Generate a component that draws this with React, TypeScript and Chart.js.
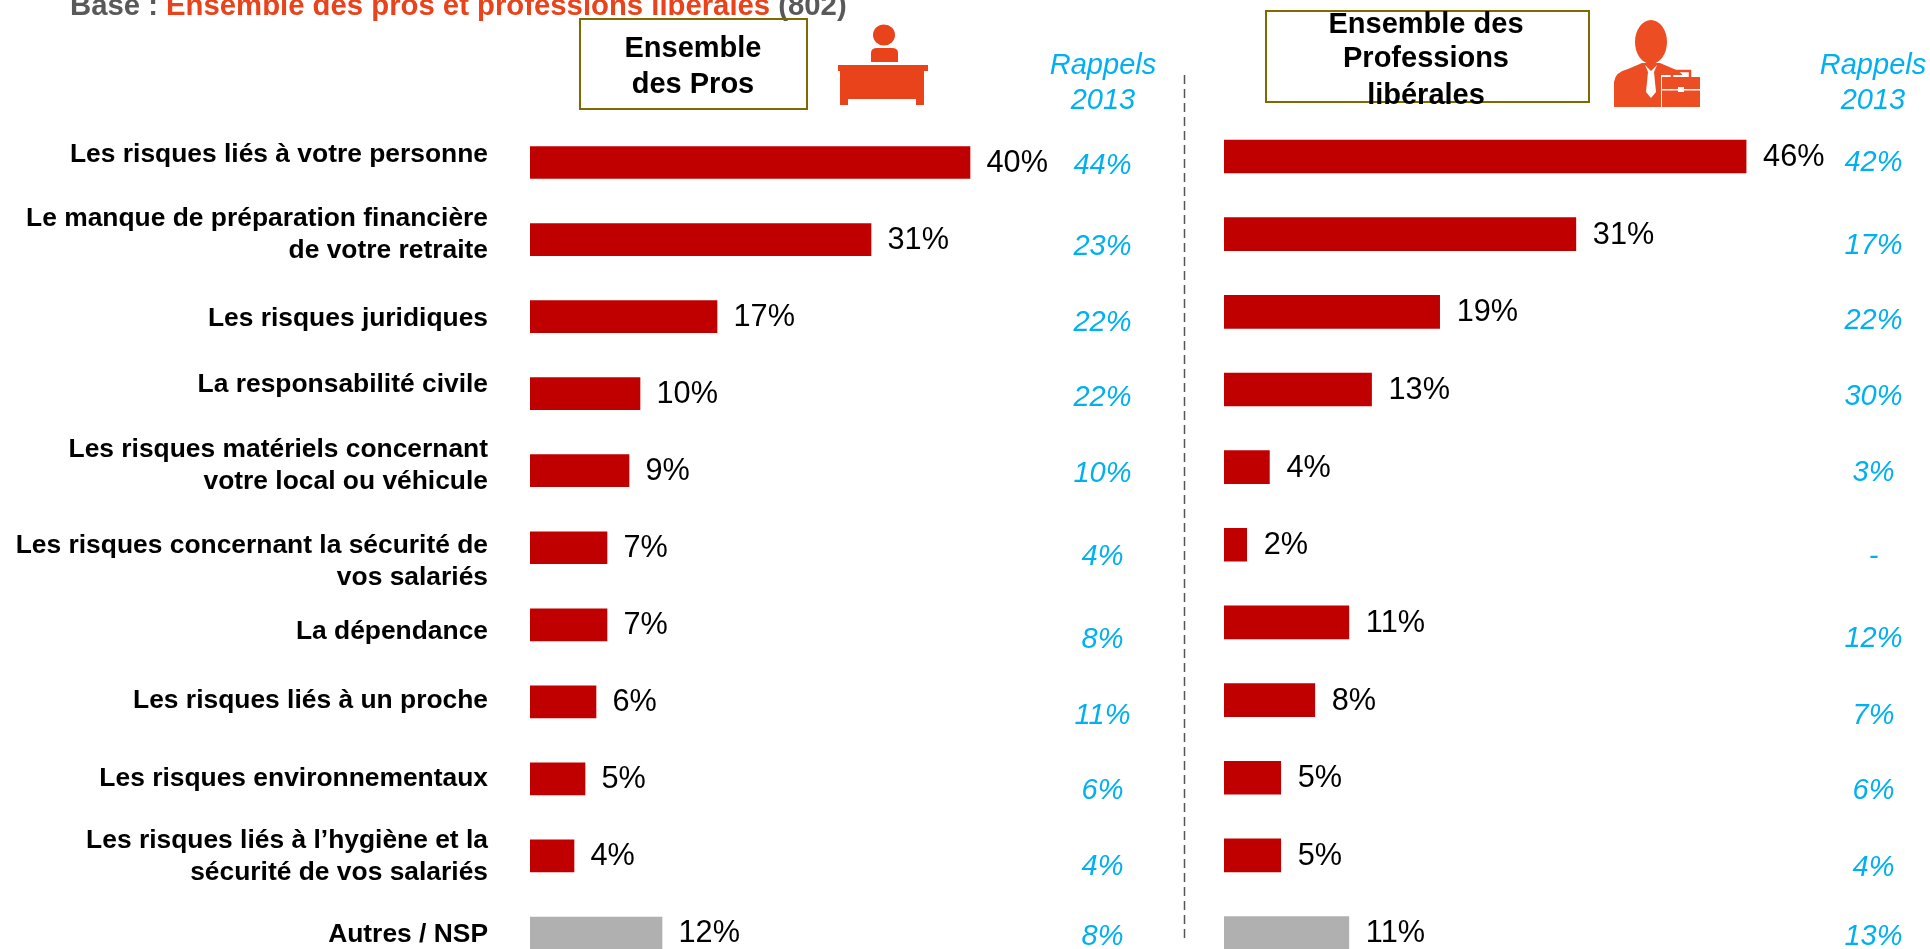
import React, { useEffect, useRef } from "react";
import { Chart, registerables } from "chart.js";

Chart.register(...registerables);

const categories = [
  ["Les risques liés à votre personne"],
  ["Le manque de préparation financière", "de votre retraite"],
  ["Les risques juridiques"],
  ["La responsabilité civile"],
  ["Les risques matériels concernant", "votre local ou véhicule"],
  ["Les risques concernant la sécurité de", "vos salariés"],
  ["La dépendance"],
  ["Les risques liés à un proche"],
  ["Les risques environnementaux"],
  ["Les risques liés à l’hygiène et la", "sécurité de vos salariés"],
  ["Autres / NSP"],
];
const prosValues = [40, 31, 17, 10, 9, 7, 7, 6, 5, 4, 12];
const liberalValues = [46, 31, 19, 13, 4, 2, 11, 8, 5, 5, 11];
const prosRappels = ["44%", "23%", "22%", "22%", "10%", "4%", "8%", "11%", "6%", "4%", "8%"];
const liberalRappels = ["42%", "17%", "22%", "30%", "3%", "-", "12%", "7%", "6%", "4%", "13%"];

// Layout nudges (px), the slide places these text boxes by hand
const labelNudge = [-7.5, -4.5, 2.5, -8.5, -4.5, 13.5, 6.5, -1.5, -0.5, 0.5, 1.5];
const prosRappelNudge = [3.5, 7.5, 6.5, 4.5, 3.5, 9.5, 15.5, 14.5, 12.5, 11.5, 3.5];
const liberalRappelNudge = [6.5, 11.5, 9.5, 7.5, 5.5, 12.5, 16.5, 15.5, 13.5, 12.5, 3.5];

const FONT = '"Liberation Sans", Arial, sans-serif';
const RED = "#C00000";
const GREY = "#B0B0B0";
const CYAN = "#00B0F0";
const ORANGE = "#E8431A";
const BOX = "#7F6A00";

type PanelOpts = {
  values: number[];
  rappels: string[];
  rappelNudge: number[];
  rappelX: number;
  showLabels: boolean;
  labelRight: number;
  gap: number;
  padLeft: number;
  padRight: number;
  padTop: number;
  padBottom: number;
  barThickness: number;
  max: number;
};

function Panel({ left, width, height, opts }: { left: number; width: number; height: number; opts: PanelOpts }) {
  const ref = useRef<HTMLCanvasElement>(null);
  useEffect(() => {
    const textPlugin = {
      id: "panelText",
      afterDatasetsDraw(chart: any) {
        const { ctx, scales } = chart;
        const y = scales.y;
        const bars = chart.getDatasetMeta(0).data;
        ctx.save();
        ctx.textBaseline = "middle";
        opts.values.forEach((v, i) => {
          const cy = y.getPixelForValue(i);
          ctx.fillStyle = "#000";
          ctx.font = `30.7px ${FONT}`;
          ctx.textAlign = "left";
          ctx.fillText(`${v}%`, bars[i].x + opts.gap, cy + 1);
          ctx.fillStyle = CYAN;
          ctx.font = `italic 29px ${FONT}`;
          ctx.textAlign = "center";
          ctx.fillText(opts.rappels[i], opts.rappelX, cy + opts.rappelNudge[i]);
          if (opts.showLabels) {
            const lines = categories[i];
            ctx.fillStyle = "#000";
            ctx.font = `bold 26.4px ${FONT}`;
            ctx.textAlign = "right";
            lines.forEach((line, k) => {
              const ly = cy + labelNudge[i] + (k - (lines.length - 1) / 2) * 32;
              ctx.fillText(line, opts.labelRight, ly);
            });
          }
        });
        ctx.restore();
      },
    };
    const chart = new Chart(ref.current as HTMLCanvasElement, {
      type: "bar",
      data: {
        labels: categories,
        datasets: [
          {
            data: opts.values,
            backgroundColor: opts.values.map((_, i) => (i === opts.values.length - 1 ? GREY : RED)),
            barThickness: opts.barThickness,
            borderWidth: 0,
          },
        ],
      },
      options: {
        indexAxis: "y",
        animation: false,
        responsive: false,
        layout: {
          padding: { left: opts.padLeft, right: opts.padRight, top: opts.padTop, bottom: opts.padBottom },
        },
        plugins: { legend: { display: false }, tooltip: { enabled: false }, title: { display: false } },
        scales: {
          x: { display: false, min: 0, max: opts.max, grid: { display: false } },
          y: { display: false, grid: { display: false } },
        },
      },
      plugins: [textPlugin],
    } as any);
    return () => chart.destroy();
  }, []);
  return <canvas ref={ref} width={width} height={height} style={{ position: "absolute", left, top: 0, width, height }} />;
}

const boxStyle = (left: number, top: number, width: number, height: number): React.CSSProperties => ({
  position: "absolute",
  left,
  top,
  width,
  height,
  boxSizing: "border-box",
  border: `2px solid ${BOX}`,
});

function HeaderText({ lines, cx, ys }: { lines: string[]; cx: number; ys: number[] }) {
  return (
    <>
      {lines.map((t, i) => (
        <div
          key={t}
          style={{
            position: "absolute",
            left: cx - 200,
            width: 400,
            top: ys[i] - 20,
            height: 40,
            textAlign: "center",
            font: `bold 29px/40px ${FONT}`,
            color: "#000",
          }}
        >
          {t}
        </div>
      ))}
    </>
  );
}

function Rappels({ cx }: { cx: number }) {
  return (
    <>
      {["Rappels", "2013"].map((t, i) => (
        <div
          key={t}
          style={{
            position: "absolute",
            left: cx - 100,
            width: 200,
            top: 64 + i * 35 - 20,
            textAlign: "center",
            font: `italic 29px/40px ${FONT}`,
            color: CYAN,
          }}
        >
          {t}
        </div>
      ))}
    </>
  );
}

export default function App() {
  return (
    <div style={{ position: "fixed", left: 0, top: 0, width: 1930, height: 949, overflow: "hidden", background: "#fff" }}>
      <Panel
        left={0}
        width={1190}
        height={980}
        opts={{
          values: prosValues,
          rappels: prosRappels,
          rappelNudge: prosRappelNudge,
          rappelX: 1102.5,
          showLabels: true,
          labelRight: 488,
          gap: 16.5,
          padLeft: 530,
          padRight: 0,
          padTop: 124,
          padBottom: 8.5,
          barThickness: 32,
          max: 60,
        }}
      />
      <Panel
        left={1190}
        width={740}
        height={980}
        opts={{
          values: liberalValues,
          rappels: liberalRappels,
          rappelNudge: liberalRappelNudge,
          rappelX: 683.5,
          showLabels: false,
          labelRight: 0,
          gap: 17,
          padLeft: 34,
          padRight: 2.3,
          padTop: 117.7,
          padBottom: 8.15,
          barThickness: 33,
          max: 62,
        }}
      />

      <div
        style={{
          position: "absolute",
          left: 70,
          top: -11,
          whiteSpace: "nowrap",
          font: `bold 29.3px/32px ${FONT}`,
          color: "#595959",
        }}
      >
        Base : <span style={{ color: ORANGE }}>Ensemble des pros et professions libérales</span> (802)
      </div>

      <div style={boxStyle(579, 18, 229, 92)} />
      <HeaderText lines={["Ensemble", "des Pros"]} cx={693} ys={[47, 83]} />
      <div style={boxStyle(1265, 10, 325, 93)} />
      <HeaderText lines={["Ensemble des", "Professions", "libérales"]} cx={1426} ys={[23, 57, 94]} />
      <Rappels cx={1103} />
      <Rappels cx={1873} />

      <svg width={1930} height={949} style={{ position: "absolute", left: 0, top: 0 }}>
        <line x1={1184.5} y1={75} x2={1184.5} y2={943} stroke="#555" strokeWidth={1.5} strokeDasharray="9 5" />
        {/* person at a desk */}
        <g fill={ORANGE}>
          <ellipse cx={884} cy={35} rx={11} ry={10.5} />
          <path d="M871 62 V53 Q871 48 877 48 H892 Q898 48 898 53 V62 Z" />
          <rect x={838} y={65} width={90} height={6} />
          <rect x={840} y={71} width={84} height={28} />
          <rect x={840} y={99} width={8} height={6} />
          <rect x={916} y={99} width={8} height={6} />
        </g>
        {/* person with briefcase */}
        <g>
          <ellipse cx={1651} cy={42} rx={16} ry={22} fill="#EC4D23" />
          <path d="M1614 107 V82 Q1615 72 1628 69 L1642 63 H1660 L1674 69 Q1684 72 1684 82 V107 Z" fill="#EC4D23" />
          <path d="M1645 65 L1651 71 L1657 65 L1654 72 L1656 92 L1651 98 L1646 92 L1648 72 Z" fill="#fff" />
          <rect x={1661} y={75} width={40} height={33} fill="#fff" />
          <rect x={1672} y={71} width={18} height={8} fill="none" stroke="#EC4D23" strokeWidth={2.5} />
          <rect x={1662} y={77} width={38} height={30} fill="#EC4D23" />
          <rect x={1662} y={89} width={38} height={1.5} fill="#fff" />
          <rect x={1678} y={87} width={6} height={5} fill="#fff" />
        </g>
      </svg>
    </div>
  );
}
